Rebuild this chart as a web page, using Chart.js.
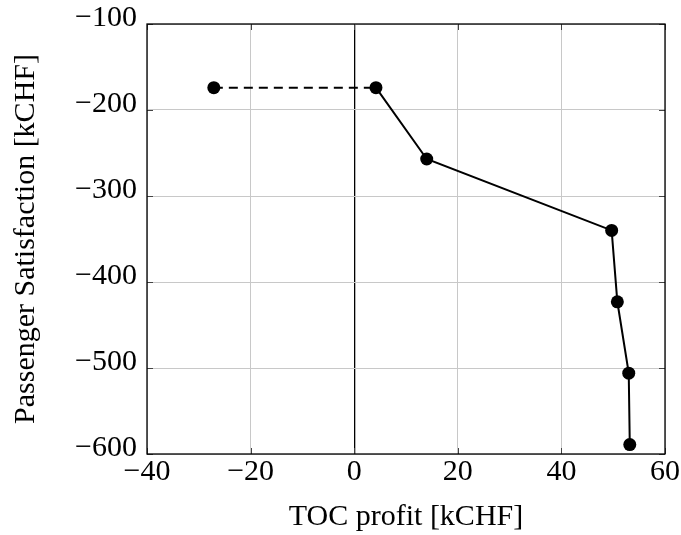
<!DOCTYPE html>
<html>
<head>
<meta charset="utf-8">
<script src="https://cdn.jsdelivr.net/npm/chart.js@4"></script>
<style>
  html, body { margin: 0; padding: 0; background: #fff; }
  #wrap { width: 681px; height: 535px; }
</style>
</head>
<body>
<div id="wrap"><canvas id="grafica"></canvas></div>
<script>
// valores
const tocProfit = [-27.1, 4.2, 14.0, 49.7, 50.8, 53.0, 53.2];
const satisfaccion = [-174, -174, -257, -340, -423, -506, -589];
const xTicks = [-40, -20, 0, 20, 40, 60];
const yTicks = [-100, -200, -300, -400, -500, -600];

const fuente = 'Liberation Serif';
const menos = v => String(v).replace('-', '\u2212');

// marco negro y marcas de tick hacia dentro (estilo pgfplots)
const marco = {
    id: 'marco',
    afterDraw(chart) {
        const { ctx, chartArea: a, scales } = chart;
        ctx.save();
        ctx.strokeStyle = '#444';
        ctx.lineWidth = 1;
        const len = 6;
        xTicks.forEach(v => {
            const px = Math.round(scales.x.getPixelForValue(v)) + 0.5;
            ctx.beginPath();
            ctx.moveTo(px, a.bottom); ctx.lineTo(px, a.bottom - len);
            ctx.moveTo(px, a.top); ctx.lineTo(px, a.top + len);
            ctx.stroke();
        });
        yTicks.forEach(v => {
            const py = Math.round(scales.y.getPixelForValue(v)) + 0.5;
            ctx.beginPath();
            ctx.moveTo(a.left, py); ctx.lineTo(a.left + len, py);
            ctx.moveTo(a.right, py); ctx.lineTo(a.right - len, py);
            ctx.stroke();
        });
        ctx.strokeStyle = '#000';
        ctx.lineWidth = 1.3;
        ctx.strokeRect(a.left, a.top, a.right - a.left, a.bottom - a.top);
        ctx.restore();
    }
};

const ctx = document.getElementById('grafica').getContext('2d');
new Chart(ctx, {
    type: 'scatter',
    data: {
        datasets: [
            {
                data: tocProfit.map((x, i) => ({ x: x, y: satisfaccion[i] })),
                showLine: true,
                borderColor: '#000',
                backgroundColor: '#000',
                borderWidth: 2,
                pointRadius: 6.5,
                pointBorderWidth: 0,
                segment: {
                    borderDash: c => c.p0DataIndex === 0 ? [9, 6] : undefined
                }
            }
        ]
    },
    options: {
        responsive: true,
        maintainAspectRatio: false,
        animation: false,
        layout: { padding: { left: 0, right: 16, top: 24, bottom: 0 } },
        plugins: { legend: { display: false }, tooltip: { enabled: false } },
        scales: {
            x: {
                type: 'linear',
                min: -40,
                max: 60,
                afterBuildTicks: axis => { axis.ticks = xTicks.map(v => ({ value: v })); },
                afterFit: axis => {
                    axis.height = 81;
                    axis.paddingLeft = 0;
                    axis.paddingRight = 0;
                },
                grid: {
                    drawTicks: false,
                    color: c => c.tick && c.tick.value === 0 ? '#000' : '#c8c8c8',
                    lineWidth: c => c.tick && c.tick.value === 0 ? 1.3 : 1
                },
                border: { display: false },
                ticks: {
                    color: '#000',
                    padding: 0,
                    maxRotation: 0,
                    font: { family: fuente, size: 30 },
                    callback: v => menos(v)
                },
                title: {
                    display: true,
                    text: 'TOC profit [kCHF]',
                    color: '#000',
                    font: { family: fuente, size: 30 },
                    padding: { top: 8, bottom: 0 }
                }
            },
            y: {
                type: 'linear',
                min: -600,
                max: -100,
                afterBuildTicks: axis => { axis.ticks = yTicks.map(v => ({ value: v })); },
                afterFit: axis => {
                    axis.width = 147;
                    axis.paddingTop = 0;
                    axis.paddingBottom = 0;
                },
                grid: { drawTicks: false, color: '#c8c8c8' },
                border: { display: false },
                ticks: {
                    color: '#000',
                    padding: 10,
                    labelOffset: -6,
                    font: { family: fuente, size: 30 },
                    callback: v => menos(v)
                },
                title: {
                    display: true,
                    text: 'Passenger Satisfaction [kCHF]',
                    color: '#000',
                    font: { family: fuente, size: 30 },
                    padding: { top: 8, bottom: 0 }
                }
            }
        }
    },
    plugins: [marco]
});
</script>
</body>
</html>
